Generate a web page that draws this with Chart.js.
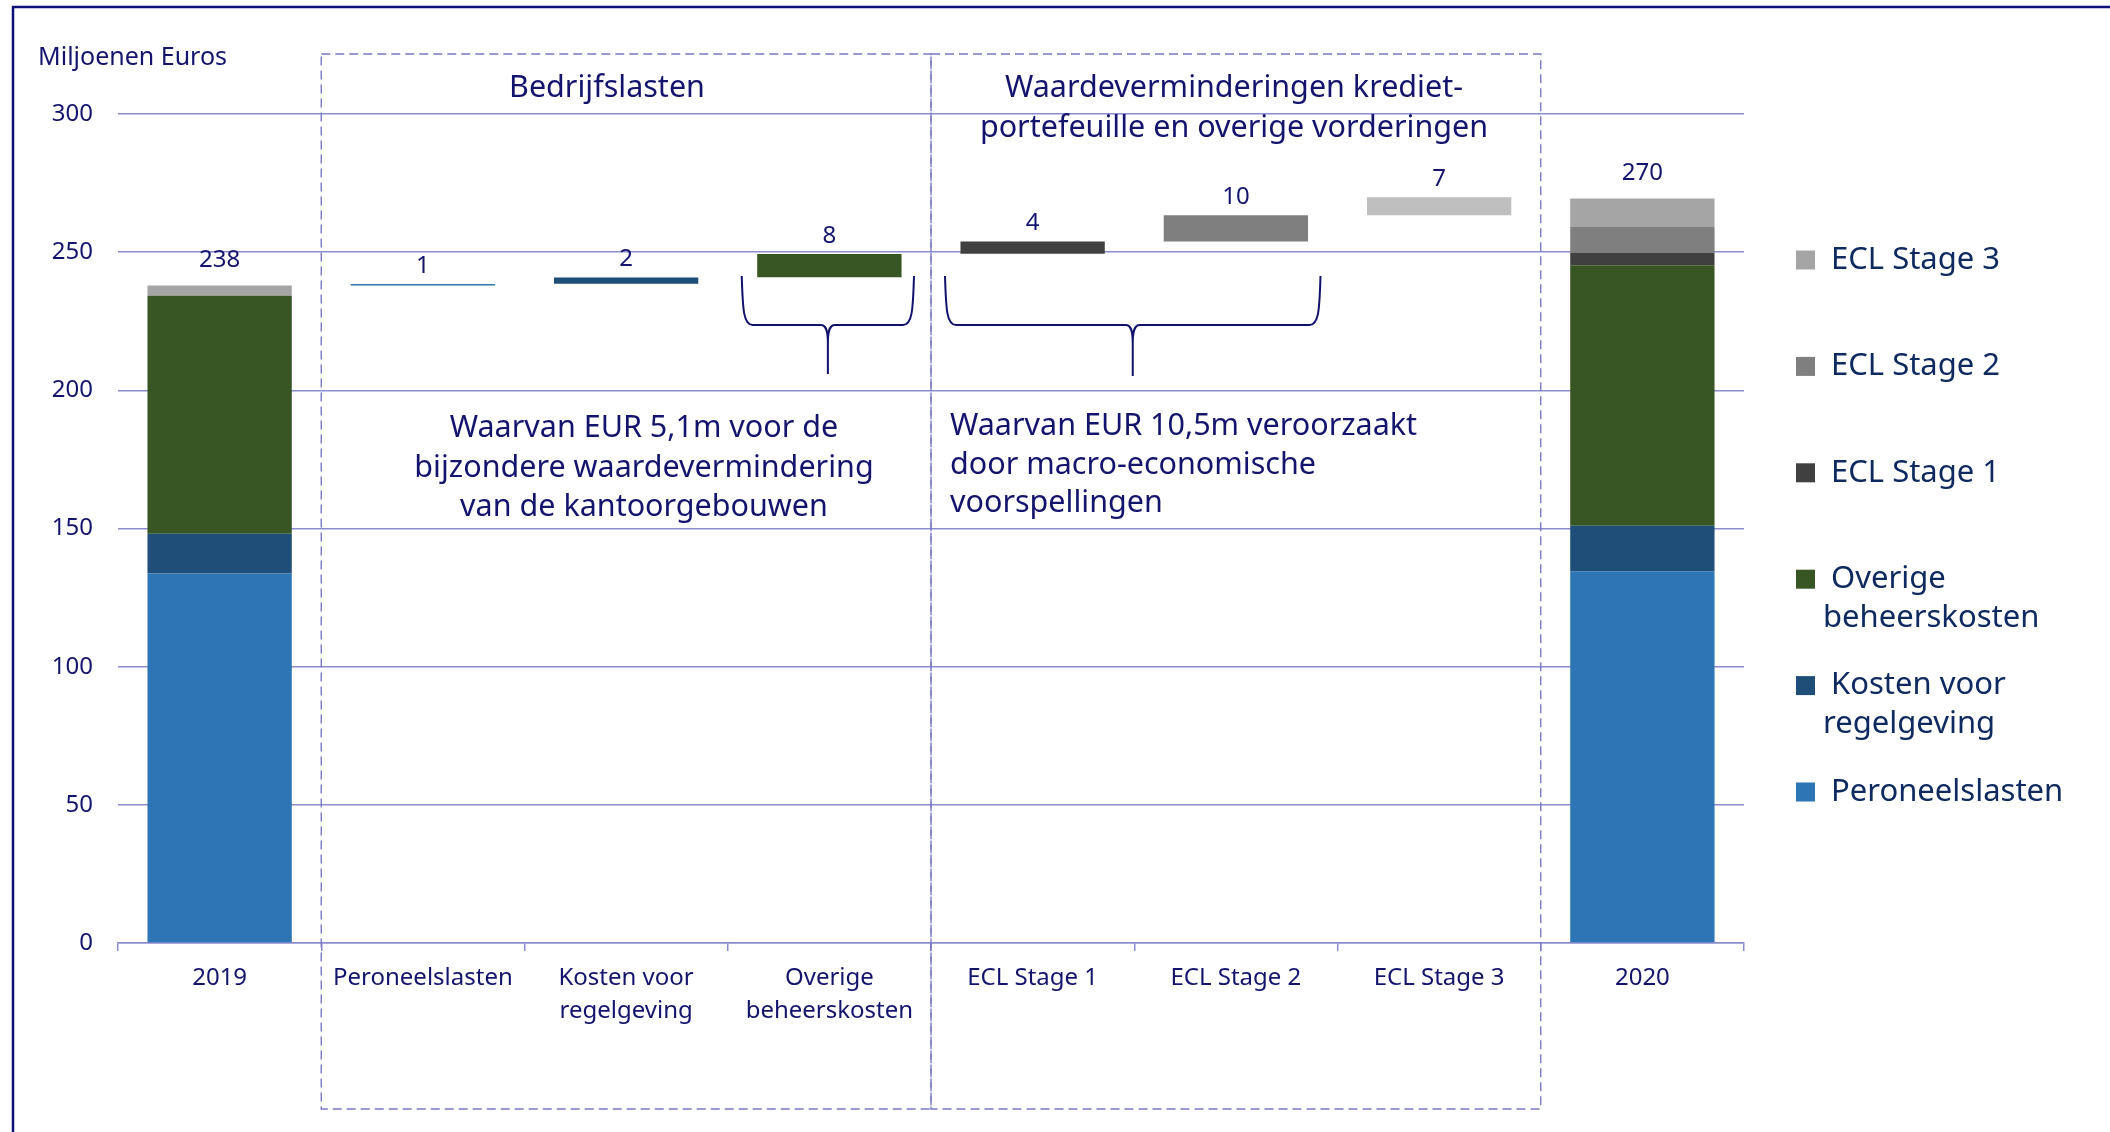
<!DOCTYPE html>
<html>
<head>
<meta charset="utf-8">
<script src="https://cdn.jsdelivr.net/npm/chart.js@4.4.1/dist/chart.umd.min.js"></script>
<style>
  html, body { margin: 0; padding: 0; background: #fff; }
  #wrap { width: 2110px; height: 1132px; }
</style>
</head>
<body>
<div id="wrap"><canvas id="bridgeChart" width="2110" height="1132"></canvas></div>
<script>
// --- data (Miljoenen Euros) ---
const categories = ['2019', 'Peroneelslasten', ['Kosten voor', 'regelgeving'], ['Overige', 'beheerskosten'],
  'ECL Stage 1', 'ECL Stage 2', 'ECL Stage 3', '2020'];

// stacked totals for 2019/2020, floating [start, end] steps in between
const peroneelslasten = [133.7, [237.9, 238.5], null, null, null, null, null, 134.5];
const kostenRegelgeving = [14.4, null, [238.6, 240.8], null, null, null, null, 16.5];
const overigeBeheerskosten = [86.1, null, null, [240.9, 249.3], null, null, null, 94.3];
const eclStage1 = [null, null, null, null, [249.4, 253.9], null, null, 4.4];
const eclStage2 = [null, null, null, null, null, [253.9, 263.4], null, 9.4];
const eclStage3 = [3.7, null, null, null, null, null, [263.4, 269.9], 10.3];

const valueLabels = ['238', '1', '2', '8', '4', '10', '7', '270'];
const yTicks = [0, 50, 100, 150, 200, 250, 300];

const seriesNames = ['Peroneelslasten', 'Kosten voor regelgeving', 'Overige beheerskosten', 'ECL Stage 1', 'ECL Stage 2', 'ECL Stage 3'];
const legendLines = [['Peroneelslasten'], ['Kosten voor', 'regelgeving'], ['Overige', 'beheerskosten'], ['ECL Stage 1'], ['ECL Stage 2'], ['ECL Stage 3']];
const colors = ['#2e75b6', '#1f4e79', '#375623', '#404040', '#7f7f7f', '#a5a5a5'];
const floatColors = ['#2e75b6', '#1f4e79', '#375623', '#404040', '#7f7f7f', '#bfbfbf'];

const NAVY = '#14146e';
const GRID = '#8c8cd0';
const FONT = "'Noto Sans', 'DejaVu Sans', sans-serif";

// --- helpers ---
function boundary(xScale, i) {
  // pixel between category i-1 and i
  return (xScale.getPixelForValue(i - 1) + xScale.getPixelForValue(i)) / 2;
}

function drawBrace(ctx, left, right, top, hY, tip) {
  const c = (left + right) / 2;
  ctx.beginPath();
  ctx.moveTo(left, top);
  ctx.bezierCurveTo(left + 1, hY - 14, left + 2, hY, left + 11, hY);
  ctx.lineTo(c - 7, hY);
  ctx.bezierCurveTo(c - 2, hY, c, hY + 5, c, hY + 18);
  ctx.lineTo(c, tip);
  ctx.moveTo(right, top);
  ctx.bezierCurveTo(right - 1, hY - 14, right - 2, hY, right - 11, hY);
  ctx.lineTo(c + 7, hY);
  ctx.bezierCurveTo(c + 2, hY, c, hY + 5, c, hY + 18);
  ctx.stroke();
}

// dashed boxes, braces, notes, value labels, legend and frame
const decorPlugin = {
  id: 'decor',
  afterDraw(chart) {
    const ctx = chart.ctx;
    const x = chart.scales.x;
    ctx.save();

    // outer frame (top + left)
    ctx.strokeStyle = '#0f0f78';
    ctx.lineWidth = 2.5;
    ctx.beginPath();
    ctx.moveTo(13, 1132);
    ctx.lineTo(13, 7);
    ctx.lineTo(2110, 7);
    ctx.stroke();

    // dashed group boxes
    const b1 = boundary(x, 1), b4 = boundary(x, 4), b7 = boundary(x, 7);
    const boxTop = 54, boxBottom = 1109;
    ctx.strokeStyle = '#7a7ac4';
    ctx.lineWidth = 1.4;
    ctx.setLineDash([9, 5]);
    ctx.strokeRect(b1, boxTop, b4 - b1, boxBottom - boxTop);
    ctx.strokeRect(b4, boxTop, b7 - b4, boxBottom - boxTop);
    ctx.setLineDash([]);

    // braces
    ctx.strokeStyle = '#12126e';
    ctx.lineWidth = 2;
    drawBrace(ctx, boundary(x, 3) + 14, boundary(x, 4) - 17, 276, 325, 374);
    drawBrace(ctx, boundary(x, 4) + 14, boundary(x, 6) - 17, 276, 325, 376);

    // texts
    ctx.fillStyle = NAVY;
    ctx.textBaseline = 'middle';
    ctx.font = '25px ' + FONT;
    ctx.textAlign = 'left';
    ctx.fillText('Miljoenen Euros', 38, 58);

    ctx.font = '30.5px ' + FONT;
    ctx.textAlign = 'center';
    ctx.fillText('Bedrijfslasten', 607, 88);
    ctx.fillText('Waardeverminderingen krediet-', 1234, 88);
    ctx.fillText('portefeuille en overige vorderingen', 1234, 128);
    ctx.fillText('Waarvan EUR 5,1m voor de', 644, 428);
    ctx.fillText('bijzondere waardevermindering', 644, 468);
    ctx.fillText('van de kantoorgebouwen', 644, 507);
    ctx.textAlign = 'left';
    ctx.fillText('Waarvan EUR 10,5m veroorzaakt', 950, 426);
    ctx.fillText('door macro-economische', 950, 465);
    ctx.fillText('voorspellingen', 950, 503);

    // value labels above the top of each column
    ctx.font = '24px ' + FONT;
    ctx.textAlign = 'center';
    categories.forEach((c, i) => {
      let top = Infinity;
      let floating = false;
      chart.data.datasets.forEach((ds, d) => {
        const el = chart.getDatasetMeta(d).data[i];
        if (ds.data[i] == null || !el) return;
        if (Array.isArray(ds.data[i])) floating = true;
        top = Math.min(top, el.y, el.base);
      });
      if (top === Infinity) return;
      ctx.fillText(valueLabels[i], x.getPixelForValue(i), top - (floating ? 18 : 25));
    });

    // legend, top item = last series
    ctx.font = '31px ' + FONT;
    ctx.textAlign = 'left';
    const order = [5, 4, 3, 2, 1, 0];
    order.forEach((d, k) => {
      const cy = 260 + k * 106.4;
      ctx.fillStyle = colors[d];
      ctx.fillRect(1796, cy - 9.5, 19, 19);
      ctx.fillStyle = '#0f2a60';
      legendLines[d].forEach((line, j) => {
        ctx.fillText(line, j === 0 ? 1831 : 1823, cy + j * 39);
      });
    });

    ctx.restore();
  }
};

const series = [peroneelslasten, kostenRegelgeving, overigeBeheerskosten, eclStage1, eclStage2, eclStage3];

const datasets = series.map((values, d) => ({
  label: seriesNames[d],
  data: values,
  backgroundColor: values.map(v => Array.isArray(v) ? floatColors[d] : colors[d]),
  borderWidth: 0,
  categoryPercentage: 1,
  barPercentage: 0.71,
  skipNull: true
}));

new Chart(document.getElementById('bridgeChart'), {
  type: 'bar',
  data: { labels: categories, datasets },
  options: {
    responsive: false,
    animation: false,
    devicePixelRatio: 1,
    layout: { padding: { top: 114, right: 366, bottom: 100, left: 0 } },
    plugins: { legend: { display: false }, tooltip: { enabled: false } },
    scales: {
      x: {
        stacked: true,
        afterFit: s => { s.height = 89; },
        grid: { drawOnChartArea: false, drawTicks: true, tickLength: 8, color: GRID, lineWidth: 1.5, offset: true },
        border: { display: true, color: GRID, width: 1.5 },
        ticks: { color: NAVY, font: { family: FONT, size: 24, lineHeight: 1.4 }, padding: 10, maxRotation: 0, autoSkip: false }
      },
      y: {
        stacked: true,
        min: yTicks[0],
        max: yTicks[yTicks.length - 1],
        afterFit: s => { s.width = 118; },
        afterBuildTicks: s => { s.ticks = yTicks.map(v => ({ value: v })); },
        grid: { color: GRID, lineWidth: 1.5, drawTicks: false },
        border: { display: false },
        ticks: { color: NAVY, font: { family: FONT, size: 24 }, padding: 25 }
      }
    }
  },
  plugins: [decorPlugin]
});
</script>
</body>
</html>
